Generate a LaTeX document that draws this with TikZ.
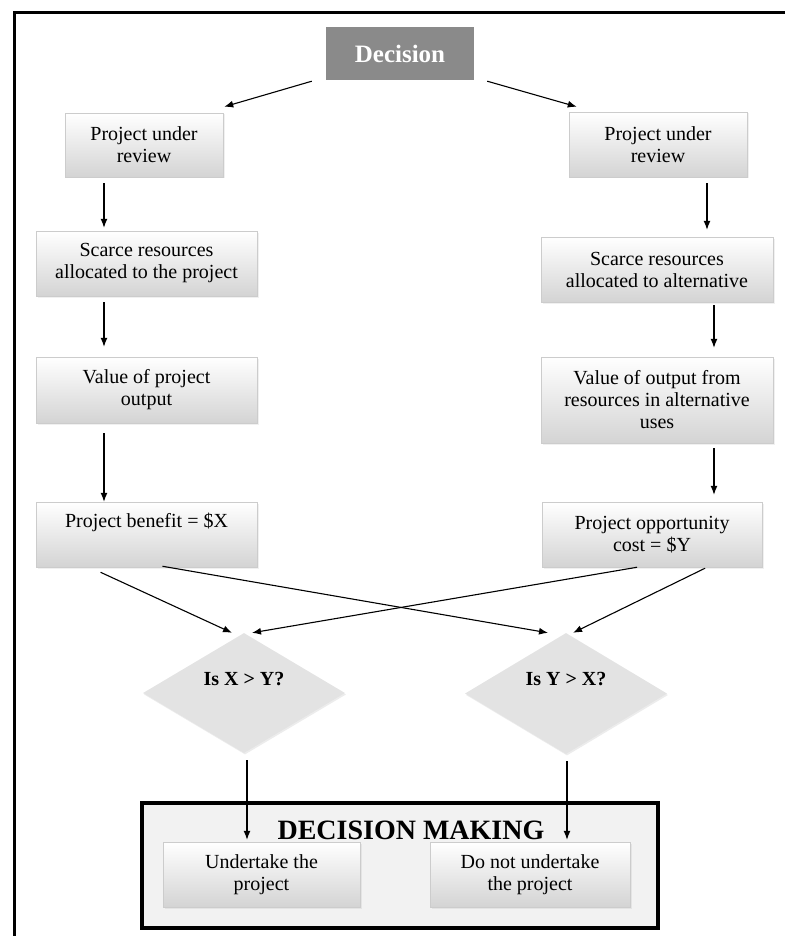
\documentclass[tikz,border=0pt]{standalone}
\usepackage{fontspec}
\setmainfont{Liberation Serif}
\usetikzlibrary{arrows.meta,calc,shapes.geometric,shadows}
\begin{document}
\begin{tikzpicture}[x=1pt,y=-1pt,
  box/.style={draw=black!20, line width=0.5pt, top color=white, bottom color=black!17,
    align=center, inner sep=0pt, font=\fontsize{20}{22}\selectfont,
    drop shadow={opacity=0.12,shadow xshift=1.5pt,shadow yshift=-1.5pt}},
  dbox/.style={diamond, fill=black!11, inner sep=0pt,
    drop shadow={opacity=0.15,shadow xshift=1pt,shadow yshift=-1.5pt}},
  dtext/.style={font=\fontsize{20}{22}\selectfont\bfseries},
  arr/.style={-{Latex[length=9pt,width=7pt]}, line width=1.1pt},
  frame/.style={line width=3pt, draw=black}
]
\useasboundingbox (0,0) rectangle (784,936);
% outer frame (only top and left visible)
\draw[frame] (14,940) -- (14,13) -- (790,13);

% top
\node[fill=black!46, minimum width=148pt, minimum height=53pt, inner sep=0pt,
  text=white, font=\fontsize{25}{28}\selectfont\bfseries] (dec) at (400,53.5) {Decision};

% left column
\node[box, minimum width=158pt, minimum height=64pt] (pl1) at (144,145) {Project under\\review};
\node[box, minimum width=221pt, minimum height=65pt] (pl2) at (146.5,263.5) {Scarce resources\\allocated to the project};
\node[box, minimum width=221pt, minimum height=66pt] (pl3) at (146.5,390) {Value of project\\output};
\node[box, minimum width=221pt, minimum height=65pt] (pl4) at (146.5,534.5) {Project benefit = \$X\\\strut};

% right column
\node[box, minimum width=178pt, minimum height=65pt] (pr1) at (658,144.5) {Project under\\review};
\node[box, minimum width=232pt, minimum height=65pt] (pr2) at (657,269.5) {Scarce resources\\allocated to alternative};
\node[box, minimum width=232pt, minimum height=86pt] (pr3) at (657,400) {Value of output from\\resources in alternative\\uses};
\node[box, minimum width=220pt, minimum height=65pt] (pr4) at (652,534.5) {Project opportunity\\cost = \$Y};

% diamonds
\node[dbox, minimum width=202pt, minimum height=120pt] (dl) at (244,693) {};
\node[dtext] (tl) at ($(dl.center)+(0,-14)$) {Is X > Y?};
\node[dbox, minimum width=202pt, minimum height=121pt] (dr) at (566,693.5) {};
\node[dtext] (tr) at ($(dr.center)+(0,-14)$) {Is Y > X?};

% decision making box
\node[draw=black, line width=3.5pt, fill=black!5, minimum width=516pt, minimum height=125pt, inner sep=0pt] (dm) at (400,865.5) {};
\node[font=\fontsize{28}{30}\selectfont\bfseries] (dmt) at (411,830) {DECISION MAKING};
\node[box, minimum width=197pt, minimum height=65pt] (il) at (261.5,874.5) {Undertake the\\project};
\node[box, minimum width=200pt, minimum height=65pt] (ir) at (530,874.5) {Do not undertake\\the project};

% helper coordinates for vertical arrow lines
\coordinate (xl) at (104,0);
\coordinate (xr1) at (707,0);
\coordinate (xr2) at (714,0);

% arrows from Decision
\draw[arr] ($(dec.south west)+(-14,1)$) -- ($(pl1.north east)+(1,-6)$);
\draw[arr] ($(dec.south east)+(13,1)$) -- ($(pr1.north west)+(8,-5)$);

% left chain
\draw[arr, shorten <=6pt, shorten >=3pt] (pl1.south -| xl) -- (pl2.north -| xl);
\draw[arr, shorten <=6pt, shorten >=10pt] (pl2.south -| xl) -- (pl3.north -| xl);
\draw[arr, shorten <=10pt] (pl3.south -| xl) -- (pl4.north -| xl);

% right chain
\draw[arr, shorten <=6pt, shorten >=7pt] (pr1.south -| xr1) -- (pr2.north -| xr1);
\draw[arr, shorten <=3pt, shorten >=9pt] (pr2.south -| xr2) -- (pr3.north -| xr2);
\draw[arr, shorten <=5pt, shorten >=7pt] (pr3.south -| xr2) -- (pr4.north -| xr2);

% crossing arrows
\draw[arr] ($(pl4.south)+(-46,5)$) -- ($(dl.north)+(-12,0)$);
\draw[arr] ($(pl4.south)+(16,-1)$) -- ($(dr.north)+(-18,0)$);
\draw[arr] ($(pr4.south)+(-15,0)$) -- ($(dl.north)+(8,0)$);
\draw[arr] ($(pr4.south)+(53,1)$) -- ($(dr.north)+(7,0)$);

% diamonds to decision making
\draw[arr, shorten <=7pt] ($(dl.south)+(3,0)$) -- ($(dl.south |- il.north)+(3,-2)$);
\draw[arr, shorten <=7pt] ($(dr.south)+(1,0)$) -- ($(dr.south |- ir.north)+(1,-2)$);
\end{tikzpicture}
\end{document}
